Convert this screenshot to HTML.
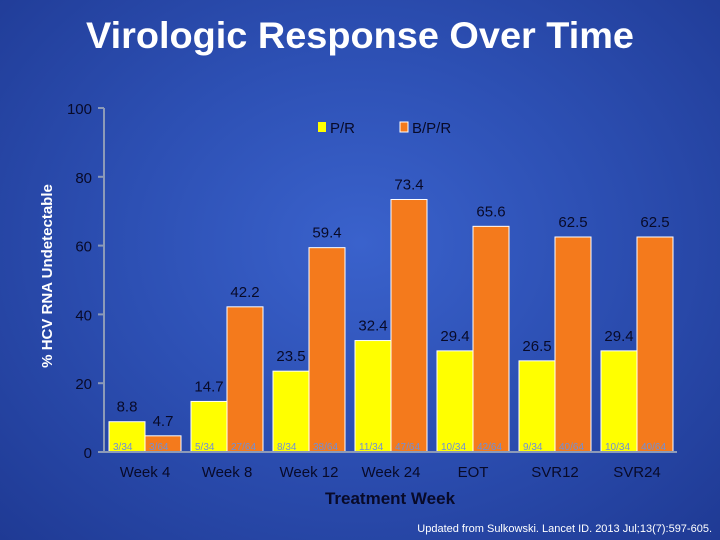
<!DOCTYPE html>
<html><head><meta charset="utf-8"><style>
html,body{margin:0;padding:0}
body{width:720px;height:540px;overflow:hidden;background:radial-gradient(ellipse at 50% 45%,#3a62cc 0%,#2d50b4 45%,#1f3a94 100%);font-family:"Liberation Sans",sans-serif}
svg{position:absolute;left:0;top:0}
</style></head><body>
<svg width="720" height="540">
<text x="360" y="48" text-anchor="middle" font-size="37" font-weight="bold" fill="#fff" textLength="548" lengthAdjust="spacingAndGlyphs" style="font-family:'Liberation Sans',sans-serif">Virologic Response Over Time</text>
<g id="plot"></g>
<text x="390" y="504" text-anchor="middle" font-size="17" font-weight="bold" fill="#080a28">Treatment Week</text>
<text transform="translate(52,276) rotate(-90)" text-anchor="middle" font-size="15" font-weight="bold" fill="#fff">% HCV RNA Undetectable</text>
<text x="712" y="532" text-anchor="end" font-size="11" fill="#fff">Updated from Sulkowski. Lancet ID. 2013 Jul;13(7):597-605.</text>
<g>
<rect x="318" y="122" width="8" height="10" fill="#ffff00"/>
<text x="330" y="133" font-size="15" fill="#080a28">P/R</text>
<rect x="400" y="122" width="8" height="10" fill="#f47a1c" stroke="#fff" stroke-width="1"/>
<text x="412" y="133" font-size="15" fill="#080a28">B/P/R</text>
</g>
</svg>
<script>
const categories=["Week 4","Week 8","Week 12","Week 24","EOT","SVR12","SVR24"];
const prValues=[8.8,14.7,23.5,32.4,29.4,26.5,29.4];
const bprValues=[4.7,42.2,59.4,73.4,65.6,62.5,62.5];
const prCounts=["3/34","5/34","8/34","11/34","10/34","9/34","10/34"];
const bprCounts=["3/64","27/64","38/64","47/64","42/64","40/64","40/64"];
const yTicks=[0,20,40,60,80,100];
const NS="http://www.w3.org/2000/svg";
const g=document.getElementById('plot');
const x0=104,x1=677,yBase=452,yTop=108,step=82,firstCenter=145,bw=36;
const txtCol='#080a28';
function y(v){return yBase-(v/100)*(yBase-yTop);}
function cx(i){return firstCenter+i*step;}
function mk(tag,attrs,txt){const e=document.createElementNS(NS,tag);for(const k in attrs)e.setAttribute(k,attrs[k]);if(txt!=null)e.textContent=txt;g.appendChild(e);return e;}
let e=mk('line',{x1:x0,y1:yTop,x2:x0,y2:yBase,stroke:'#8c9ab8','stroke-width':2});


yTicks.forEach(t=>{
 let l=mk('line',{x1:x0-6,y1:y(t),x2:x0,y2:y(t),stroke:'#8c9ab8','stroke-width':2});
 
 
 let tx=mk('text',{x:x0-12,y:y(t)+6,'text-anchor':'end','font-size':15,fill:txtCol},String(t));
 
 
});
categories.forEach((c,i)=>{
 const c0=cx(i);
 let b1=mk('rect',{x:c0-bw,y:y(prValues[i]),width:bw,height:yBase-y(prValues[i]),fill:'#ffff00',stroke:'#fff','stroke-width':1});
 
 
 let b2=mk('rect',{x:c0,y:y(bprValues[i]),width:bw,height:yBase-y(bprValues[i]),fill:'#f47a1c',stroke:'#fff','stroke-width':1});
 
 
 let v1=mk('text',{x:c0-bw/2,y:y(prValues[i])-10,'text-anchor':'middle','font-size':15,fill:txtCol},prValues[i].toFixed(1));
 
 
 let v2=mk('text',{x:c0+bw/2,y:y(bprValues[i])-10,'text-anchor':'middle','font-size':15,fill:txtCol},bprValues[i].toFixed(1));
 
 
 let n1=mk('text',{x:c0-bw+4,y:yBase-2,'font-size':10,fill:'#6f8fd8'},prCounts[i]);
 
 
 let n2=mk('text',{x:c0+4,y:yBase-2,'font-size':10,fill:'#6f8fd8'},bprCounts[i]);
 
 
 let cl=mk('text',{x:c0,y:yBase+25,'text-anchor':'middle','font-size':15,fill:txtCol},c);
 
 
});
e=mk('line',{x1:x0-6,y1:yBase,x2:x1,y2:yBase,stroke:'#8c9ab8','stroke-width':2});


</script>
</body></html>
